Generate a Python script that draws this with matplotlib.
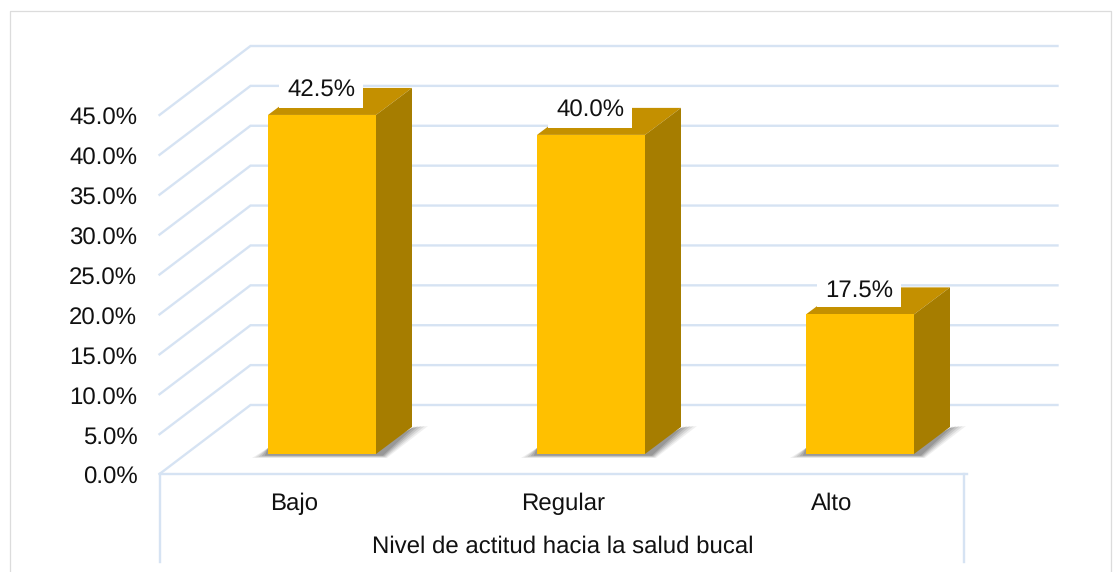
import matplotlib
matplotlib.use("Agg")
import matplotlib.pyplot as plt
from matplotlib.patches import Polygon, Rectangle
from matplotlib.transforms import IdentityTransform, ScaledTranslation

plt.rcParams['font.family'] = ['Liberation Sans', 'DejaVu Sans']
plt.rcParams['text.hinting'] = 'no_hinting'
plt.rcParams['text.hinting_factor'] = 1

categories = ["Bajo", "Regular", "Alto"]
values = [42.5, 40.0, 17.5]
value_labels = ["42.5%", "40.0%", "17.5%"]
ticks = [0, 5, 10, 15, 20, 25, 30, 35, 40, 45]
tick_labels = ["0.0%", "5.0%", "10.0%", "15.0%", "20.0%", "25.0%", "30.0%", "35.0%", "40.0%", "45.0%"]
x_title = "Nivel de actitud hacia la salud bucal"

W, H = 1120, 572
GRID = "#D6E3F3"
FRONT, SIDE, TOP = "#FFC000", "#A67D00", "#C49000"
BAR_W = 108 / 269
WALL = (91, 69)      # pixel offset of back wall from the front plane
BAR_OFF = (28, 20)   # pixel offset of bar front from the front plane
DEPTH = (36, 27)     # pixel depth of a bar
FS = 17

fig = plt.figure(figsize=(W / 100, H / 100), dpi=100, facecolor="white")
left, right, y0, y45 = 159.5, 966.5, H - 474, H - 115
ax = fig.add_axes([left / W, y0 / H, (right - left) / W, (y45 - y0) / H])
ax.set_xlim(-0.5, 2.5)
ax.set_ylim(0, 45)
ax.patch.set_alpha(0)
for s in ax.spines.values():
    s.set_visible(False)
ax.set_xticks(range(3), categories)
ax.set_yticks(ticks, tick_labels)
ax.tick_params(axis="both", length=0, labelsize=FS, labelcolor="#111111")
ax.tick_params(axis="y", pad=16)
ax.tick_params(axis="x", pad=13.2)
ax.set_xlabel(x_title, fontsize=FS, color="#111111", labelpad=14.8)
shift_down = ScaledTranslation(0, -1.5 / 72 * 72 / 100, fig.dpi_scale_trans)
for lab in ax.get_yticklabels():
    lab.set_transform(lab.get_transform() + shift_down)

# outer frame
fig.add_artist(plt.Line2D([9.5 / W, 9.5 / W, 1110.5 / W, 1110.5 / W],
                          [0, (H - 10.5) / H, (H - 10.5) / H, 0],
                          color="#DCDCDC", lw=0.9))


def px(x, v, off=(0, 0)):
    dx, dy = ax.transData.transform((x, v))
    return dx + off[0], dy + off[1]


def add_line(points, z=1, lw=1.7):
    xs, ys = zip(*points)
    ax.add_line(plt.Line2D(xs, ys, transform=IdentityTransform(), color=GRID, lw=lw,
                           zorder=z, clip_on=False, solid_joinstyle="miter"))


def add_poly(points, color, z, alpha=1.0):
    ax.add_patch(Polygon(points, closed=True, transform=IdentityTransform(), fc=color,
                         ec="none", alpha=alpha, zorder=z, clip_on=False, lw=0))


# gridlines: diagonal on the side wall plus line on the back wall
for t in ticks:
    add_line([px(-0.5, t), px(-0.5, t, WALL), px(2.5, t, WALL)])
# floor front edge and the box around the category labels
add_line([px(-0.5, 0), px(2.5, 0)])
add_line([px(-0.5, 0), px(-0.5, 0, (0, -88))])
add_line([px(2.49, 0), px(2.49, 0, (0, -88))])

# bars
for i, (val, lab) in enumerate(zip(values, value_labels)):
    a, b = i - BAR_W / 2, i + BAR_W / 2
    bl = px(a, 0, BAR_OFF)
    br = px(b, 0, BAR_OFF)
    tl = px(a, val, BAR_OFF)
    tr = px(b, val, BAR_OFF)
    d = DEPTH
    # soft shadow on the floor, built from stacked translucent shapes
    for grow, al in [(1.0, .10), (.8, .14), (.6, .18), (.4, .24), (.2, .3)]:
        g = 16 * grow
        add_poly([(bl[0] - g, bl[1] - 1 - 3 * grow), (bl[0], bl[1] + 6), (br[0], br[1] + 6),
                  (br[0] + d[0], br[1] + d[1] - 1), (br[0] + d[0] + g, br[1] + d[1] + 1),
                  (br[0] + 6 + g * .3, br[1] - 1 - 3 * grow)], "#666666", 2, alpha=al)
    add_poly([tl, (tl[0] + d[0], tl[1] + d[1]), (tr[0] + d[0], tr[1] + d[1]), tr], TOP, 3)
    add_poly([br, (br[0] + d[0], br[1] + d[1]), (tr[0] + d[0], tr[1] + d[1]), tr], SIDE, 3)
    add_poly([bl, br, tr, tl], FRONT, 4)
    # value label on a white box
    cx, cy = tl[0] + 53, tl[1] + 24
    ax.add_patch(Rectangle((cx - 42, cy - 17), 84, 34, transform=IdentityTransform(),
                           fc="white", ec="none", zorder=6, clip_on=False))
    ax.text(cx, cy, lab, transform=IdentityTransform(), ha="center", va="center",
            fontsize=FS, color="#111111", zorder=7, clip_on=False)

fig.savefig("out.png", dpi=100, facecolor="white")
